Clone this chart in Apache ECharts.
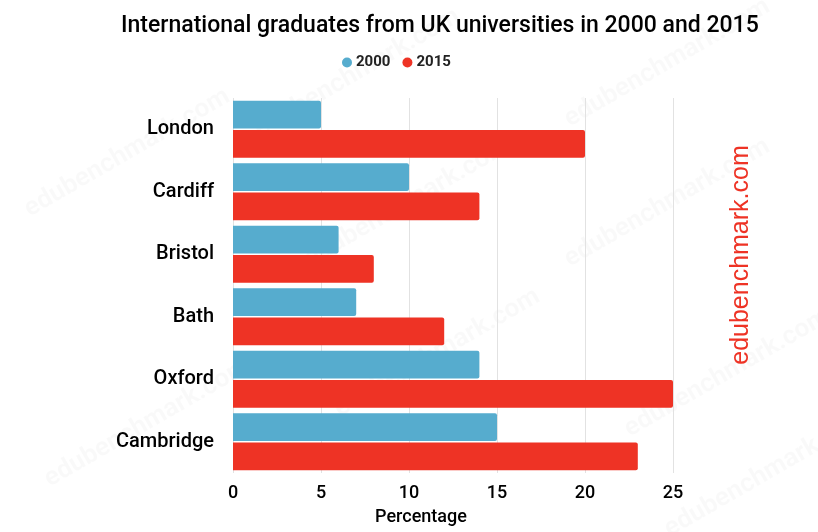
<!DOCTYPE html>
<html>
<head>
<meta charset="utf-8">
<script src="https://cdn.jsdelivr.net/npm/echarts@6/dist/echarts.min.js"></script>
<style>html,body{margin:0;padding:0;background:#fff}#c{width:818px;height:532px}</style>
</head>
<body>
<div id="c"></div>
<script>
const categories = ['London', 'Cardiff', 'Bristol', 'Bath', 'Oxford', 'Cambridge'];
const values2000 = [5, 10, 6, 7, 14, 15];
const values2015 = [20, 14, 8, 12, 25, 23];
const xTicks = [0, 5, 10, 15, 20, 25];

const chart = echarts.init(document.getElementById('c'));
const font = 'Roboto';
const wm = [];
const wmPos = [[20, 200], [250, 120], [560, 110], [300, 250], [560, 250], [40, 470], [330, 400], [620, 420], [660, 520]];
wmPos.forEach(p => wm.push({
  type: 'text', x: p[0], y: p[1], rotation: Math.PI / 6, z: -1,
  style: { text: 'edubenchmark.com', fill: 'rgba(0,0,0,0.022)', font: 'bold 26px Roboto' }
}));
chart.setOption({
  backgroundColor: '#fff',
  title: {
    text: 'International graduates from UK universities in 2000 and 2015',
    left: 116, top: 10,
    textStyle: { fontFamily: font, fontSize: 23, fontWeight: 500, color: '#000' }
  },
  legend: {
    top: 50, left: 337, icon: 'circle', itemWidth: 10, itemHeight: 10, itemGap: 12,
    textStyle: { fontFamily: font, fontSize: 15, fontWeight: 'bold', color: '#222', padding: [0, 0, 0, -1] },
    data: ['2000', '2015']
  },
  grid: { left: 233, right: 145, top: 98, bottom: 59 },
  xAxis: {
    type: 'value', min: 0, max: 25, interval: 5,
    name: 'Percentage', nameLocation: 'middle', nameGap: 35,
    nameTextStyle: { fontFamily: font, fontSize: 18, fontWeight: 500, color: '#000', padding: [0, 64, 0, 0] },
    axisLine: { show: false }, axisTick: { show: false },
    axisLabel: { fontFamily: font, fontSize: 18, fontWeight: 500, color: '#000', margin: 11,
      formatter: v => xTicks.includes(v) ? String(v) : '' },
    splitLine: { lineStyle: { color: '#e2e2e2', width: 1 } }
  },
  yAxis: {
    type: 'category', data: categories, inverse: true,
    axisLine: { show: false }, axisTick: { show: false },
    axisLabel: { fontFamily: font, fontSize: 20, fontWeight: 500, color: '#000', margin: 19 }
  },
  series: [
    { name: '2000', type: 'bar', data: values2000, barGap: '5%', barCategoryGap: '9%',
      itemStyle: { color: '#56acce', borderRadius: [0, 2, 2, 0] } },
    { name: '2015', type: 'bar', data: values2015,
      itemStyle: { color: '#ee3325', borderRadius: [0, 2, 2, 0] } }
  ],
  graphic: wm.concat([{
    type: 'text', x: 741, y: 255, rotation: Math.PI / 2,
    style: { text: 'edubenchmark.com', fill: '#ee3325', font: '25px "Liberation Sans"',
      textAlign: 'center', textVerticalAlign: 'middle' }
  }])
});
</script>
</body>
</html>
